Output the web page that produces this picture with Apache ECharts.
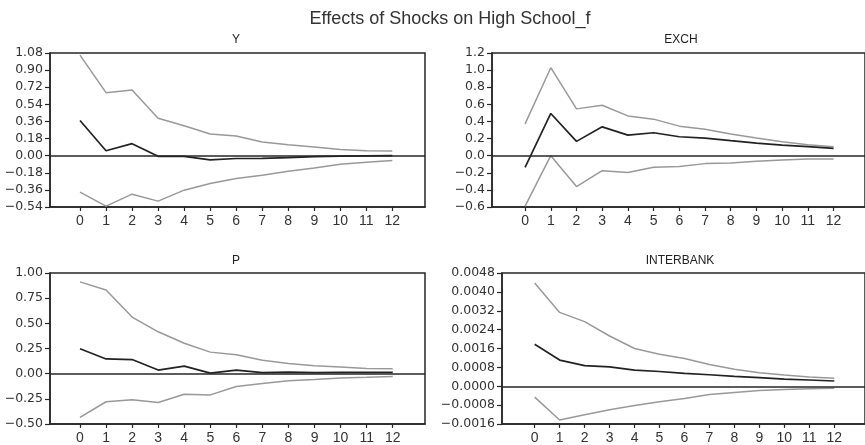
<!DOCTYPE html>
<html>
<head>
<meta charset="utf-8">
<script src="https://cdn.jsdelivr.net/npm/echarts@6/dist/echarts.min.js"></script>
<style>
html,body{margin:0;padding:0;background:#fff;}
#chart{width:865px;height:445px;}
</style>
</head>
<body>
<div id="chart"></div>
<script>
// ---- Data ----
const mainTitle = 'Effects of Shocks on High School_f';
const panelTitles = ['Y', 'EXCH', 'P', 'INTERBANK'];
const horizons = [0, 1, 2, 3, 4, 5, 6, 7, 8, 9, 10, 11, 12];

const yResp  = [0.370, 0.052, 0.126, -0.007, -0.007, -0.045, -0.030, -0.028, -0.020, -0.010, -0.005, -0.003, 0.000];
const yUpper = [1.058, 0.663, 0.691, 0.394, 0.314, 0.227, 0.206, 0.143, 0.115, 0.091, 0.066, 0.052, 0.049];
const yLower = [-0.384, -0.531, -0.405, -0.478, -0.363, -0.293, -0.241, -0.206, -0.164, -0.129, -0.091, -0.070, -0.052];

const exchResp  = [-0.136, 0.493, 0.167, 0.337, 0.240, 0.268, 0.221, 0.206, 0.175, 0.147, 0.124, 0.105, 0.085];
const exchUpper = [0.372, 1.028, 0.547, 0.590, 0.465, 0.427, 0.345, 0.310, 0.252, 0.206, 0.163, 0.128, 0.105];
const exchLower = [-0.590, 0.000, -0.361, -0.175, -0.198, -0.136, -0.128, -0.093, -0.085, -0.066, -0.050, -0.039, -0.039];

const pResp  = [0.247, 0.146, 0.140, 0.036, 0.075, 0.006, 0.036, 0.010, 0.016, 0.010, 0.013, 0.013, 0.013];
const pUpper = [0.912, 0.831, 0.562, 0.416, 0.302, 0.214, 0.188, 0.133, 0.100, 0.078, 0.065, 0.052, 0.049];
const pLower = [-0.435, -0.279, -0.260, -0.286, -0.205, -0.211, -0.127, -0.097, -0.071, -0.058, -0.042, -0.036, -0.029];

const interResp  = [0.00178, 0.00111, 0.000877, 0.00082, 0.00068, 0.000626, 0.000543, 0.000487, 0.000417, 0.000362, 0.000306, 0.000264, 0.000223];
const interUpper = [0.00438, 0.00313, 0.00274, 0.00213, 0.00160, 0.00136, 0.00118, 0.000918, 0.000723, 0.00057, 0.000473, 0.00039, 0.000334];
const interLower = [-0.000459, -0.00143, -0.00121, -0.00100, -0.00082, -0.000654, -0.000515, -0.000348, -0.000264, -0.00018, -0.000139, -0.000111, -0.0000835];

// y-axis tick ranges: [min, max, interval, decimals]
const yTicksY     = [-0.54, 1.08, 0.18, 2];
const yTicksEXCH  = [-0.6, 1.2, 0.2, 1];
const yTicksP     = [-0.5, 1.0, 0.25, 2];
const yTicksINTER = [-0.0016, 0.0048, 0.0008, 4];

// ---- Layout / styles ----
const panels = [
  {resp: yResp, up: yUpper, lo: yLower, ticks: yTicksY,
   box: {left: 50, top: 53, width: 375, height: 154}, x0: 80, step: 26.03, titleX: 236, titleY: 40},
  {resp: exchResp, up: exchUpper, lo: exchLower, ticks: yTicksEXCH,
   box: {left: 492, top: 53, width: 380, height: 154}, x0: 525.7, step: 26.19, titleX: 681, titleY: 40},
  {resp: pResp, up: pUpper, lo: pLower, ticks: yTicksP,
   box: {left: 50, top: 273, width: 375, height: 154}, x0: 80, step: 26.06, titleX: 236, titleY: 261},
  {resp: interResp, up: interUpper, lo: interLower, ticks: yTicksINTER,
   box: {left: 502, top: 273, width: 370, height: 154}, x0: 535.3, step: 25.45, titleX: 680, titleY: 261}
];

const frameColor = '#262626';
const grids = [], xAxes = [], yAxes = [], series = [], graphics = [];

panels.forEach((p, i) => {
  grids.push(Object.assign({show: true, borderColor: frameColor, borderWidth: 1.5, backgroundColor: 'transparent'}, p.box));
  const xmin = (p.box.left - p.x0) / p.step;
  const xmax = (p.box.left + p.box.width - p.x0) / p.step;
  xAxes.push({
    type: 'value', gridIndex: i, min: xmin, max: xmax,
    axisLine: {show: true, onZero: false, lineStyle: {color: frameColor, width: 1.5}},
    axisTick: {show: true, length: 4, customValues: horizons, lineStyle: {color: frameColor, width: 1.2}},
    axisLabel: {customValues: horizons, margin: 7, fontFamily: 'Liberation Sans', fontSize: 14, color: '#333',
      formatter: v => String(Math.round(v))},
    splitLine: {show: false}
  });
  const [mn, mx, iv, dec] = p.ticks;
  yAxes.push({
    type: 'value', gridIndex: i, min: mn, max: mx, interval: iv,
    axisLine: {show: true, onZero: false, lineStyle: {color: frameColor, width: 1.5}},
    axisTick: {show: true, length: 5, lineStyle: {color: frameColor, width: 1.2}},
    axisLabel: {margin: 7, fontFamily: 'DejaVu Sans', fontSize: 12.5, color: '#333',
      formatter: v => v.toFixed(dec).replace('-', '\u2212')},
    splitLine: {show: false}
  });
  const mk = arr => horizons.map((h, k) => [h, arr[k]]);
  series.push({
    type: 'line', xAxisIndex: i, yAxisIndex: i, data: mk(p.up), symbol: 'none',
    lineStyle: {color: '#999999', width: 1.5}, silent: true, z: 2
  });
  series.push({
    type: 'line', xAxisIndex: i, yAxisIndex: i, data: mk(p.lo), symbol: 'none',
    lineStyle: {color: '#999999', width: 1.5}, silent: true, z: 2
  });
  series.push({
    type: 'line', xAxisIndex: i, yAxisIndex: i, data: mk(p.resp), symbol: 'none',
    lineStyle: {color: '#222222', width: 1.7}, silent: true, z: 3,
    markLine: {silent: true, symbol: 'none', label: {show: false},
      lineStyle: {color: frameColor, width: 1.5, type: 'solid'}, data: [{yAxis: 0}]}
  });
  graphics.push({
    type: 'text', x: p.titleX, y: p.titleY,
    style: {text: panelTitles[i], textAlign: 'center', textVerticalAlign: 'middle',
      font: '12px "Liberation Sans"', fill: '#222'}
  });
});

graphics.push({
  type: 'text', x: 450, y: 19,
  style: {text: mainTitle, textAlign: 'center', textVerticalAlign: 'middle',
    font: '18px "Liberation Sans"', fill: '#333'}
});

const chart = echarts.init(document.getElementById('chart'), null, {renderer: 'canvas'});
chart.setOption({
  animation: false,
  backgroundColor: '#fff',
  grid: grids,
  xAxis: xAxes,
  yAxis: yAxes,
  series: series,
  graphic: graphics
});
</script>
</body>
</html>
